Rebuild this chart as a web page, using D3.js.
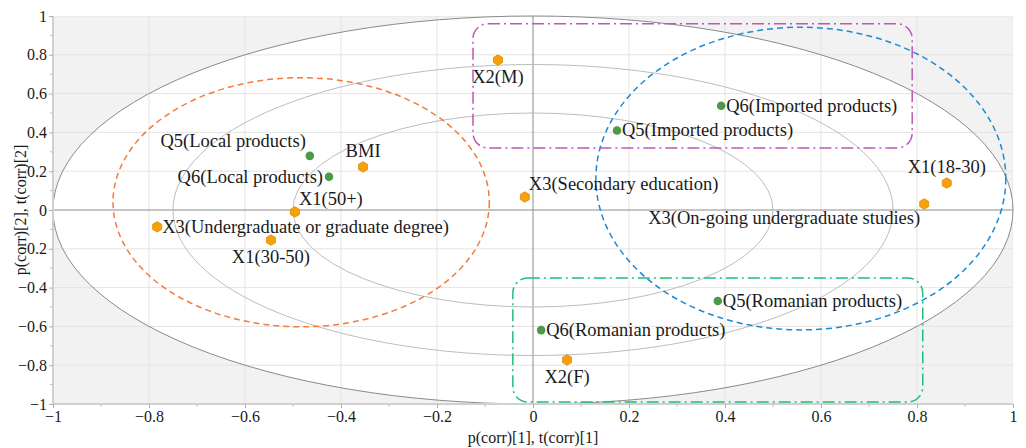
<!DOCTYPE html>
<html>
<head>
<meta charset="utf-8">
<script src="https://cdn.jsdelivr.net/npm/d3@7"></script>
<style>
  body { margin: 0; background: #fff; }
  svg text { font-family: "Liberation Serif", "DejaVu Serif", serif; fill: #1a1a1a; }
</style>
</head>
<body>
<div id="chart"></div>
<script>
// loadings: name, x, y, kind, label placement
const pointNames = ["X2(M)", "BMI", "X3(Secondary education)", "Q5(Imported products)", "Q6(Imported products)",
  "X1(18-30)", "X3(On-going undergraduate studies)", "Q5(Local products)", "Q6(Local products)", "X1(50+)",
  "X3(Undergraduate or graduate degree)", "X1(30-50)", "Q5(Romanian products)", "Q6(Romanian products)", "X2(F)"];
const pointX = [-0.073, -0.354, -0.017, 0.175, 0.392, 0.862, 0.815, -0.465, -0.425, -0.496, -0.783, -0.546, 0.385, 0.017, 0.071];
const pointY = [0.773, 0.222, 0.067, 0.41, 0.537, 0.139, 0.031, 0.279, 0.171, -0.01, -0.087, -0.155, -0.469, -0.619, -0.773];
const pointKind = ["x", "x", "x", "q", "q", "x", "x", "q", "q", "x", "x", "x", "q", "q", "x"];
const labelPos = ["below", "above", "aboveRight", "right", "right", "above", "belowLeft", "aboveLeft", "left", "aboveRight",
  "right", "below", "right", "right", "below"];

// reference ellipses (radii in data units)
const ellipseRadii = [1, 0.75, 0.5];

// group ellipses: cx, cy, rx, ry
const groupEllipses = [
  {cx: -0.483, cy: 0.04, rx: 0.392, ry: 0.642, color: "#f47a3e"},
  {cx: 0.558, cy: 0.162, rx: 0.427, ry: 0.78, color: "#1a8ad4"}
];
// group boxes: x0, x1, y0, y1
const groupBoxes = [
  {x0: -0.125, x1: 0.79, y0: 0.32, y1: 0.96, color: "#c254b6"},
  {x0: -0.042, x1: 0.812, y0: -0.99, y1: -0.35, color: "#1fbf78"}
];

const majorTicks = [-1, -0.8, -0.6, -0.4, -0.2, 0, 0.2, 0.4, 0.6, 0.8, 1];
const minorTicks = [-0.9, -0.7, -0.5, -0.3, -0.1, 0.1, 0.3, 0.5, 0.7, 0.9];

const width = 1026, height = 448;
const margin = {top: 16, right: 13, bottom: 44, left: 53};

const svg = d3.select("#chart").append("svg")
  .attr("width", width)
  .attr("height", height);

const x = d3.scaleLinear().domain([-1, 1]).range([margin.left, width - margin.right]);
const y = d3.scaleLinear().domain([-1, 1]).range([height - margin.bottom, margin.top]);

svg.append("clipPath").attr("id", "plot-clip")
  .append("rect")
  .attr("x", x(-1)).attr("y", y(1))
  .attr("width", x(1) - x(-1)).attr("height", y(-1) - y(1));

// gray background, white inside the unit ellipse
svg.append("rect")
  .attr("x", x(-1)).attr("y", y(1))
  .attr("width", x(1) - x(-1)).attr("height", y(-1) - y(1))
  .attr("fill", "#f2f2f2");

svg.append("ellipse")
  .attr("cx", x(0)).attr("cy", y(0))
  .attr("rx", x(1) - x(0)).attr("ry", y(0) - y(1))
  .attr("fill", "#fff");

// grid
const grid = svg.append("g").attr("clip-path", "url(#plot-clip)");
grid.selectAll(".gx").data(majorTicks.filter(d => d !== 0))
  .enter().append("line")
  .attr("x1", d => x(d)).attr("x2", d => x(d))
  .attr("y1", y(1)).attr("y2", y(-1))
  .attr("stroke", "#e4e4e4").attr("stroke-width", 1);
grid.selectAll(".gy").data(majorTicks.filter(d => d !== 0))
  .enter().append("line")
  .attr("y1", d => y(d)).attr("y2", d => y(d))
  .attr("x1", x(-1)).attr("x2", x(1))
  .attr("stroke", "#e4e4e4").attr("stroke-width", 1);

// zero lines
svg.append("line")
  .attr("x1", x(-1)).attr("x2", x(1)).attr("y1", y(0)).attr("y2", y(0))
  .attr("stroke", "#8c8c8c").attr("stroke-width", 1);
svg.append("line")
  .attr("x1", x(0)).attr("x2", x(0)).attr("y1", y(1)).attr("y2", y(-1))
  .attr("stroke", "#8c8c8c").attr("stroke-width", 1);

// reference ellipses
svg.selectAll(".ref-ellipse").data(ellipseRadii)
  .enter().append("ellipse")
  .attr("class", "ref-ellipse")
  .attr("cx", x(0)).attr("cy", y(0))
  .attr("rx", d => x(d) - x(0)).attr("ry", d => y(0) - y(d))
  .attr("fill", "none")
  .attr("stroke", (d, i) => i === 0 ? "#8a8a8a" : "#bdbdbd")
  .attr("stroke-width", 1);

// axes lines
svg.append("line")
  .attr("x1", x(-1)).attr("x2", x(-1)).attr("y1", y(1)).attr("y2", y(-1))
  .attr("stroke", "#d0d0d0").attr("stroke-width", 2);
svg.append("line")
  .attr("x1", x(-1)).attr("x2", x(1)).attr("y1", y(-1)).attr("y2", y(-1))
  .attr("stroke", "#d0d0d0").attr("stroke-width", 2);

// axes
const xAxis = svg.append("g")
  .attr("transform", "translate(0," + y(-1) + ")")
  .call(d3.axisBottom(x).tickValues(majorTicks).tickSize(4).tickPadding(3).tickFormat(d3.format("")));
const yAxis = svg.append("g")
  .attr("transform", "translate(" + x(-1) + ",0)")
  .call(d3.axisLeft(y).tickValues(majorTicks).tickSize(4).tickPadding(2).tickFormat(d3.format("")));
[xAxis, yAxis].forEach(a => {
  a.select(".domain").remove();
  a.selectAll("line").attr("stroke", "#b0b0b0");
  a.selectAll("text").attr("font-family", "Liberation Serif, serif").attr("font-size", 16).attr("fill", "#1a1a1a");
});
xAxis.selectAll(".minor").data(minorTicks).enter().append("line")
  .attr("x1", d => x(d)).attr("x2", d => x(d)).attr("y1", 0).attr("y2", 3)
  .attr("stroke", "#c0c0c0");
yAxis.selectAll(".minor").data(minorTicks).enter().append("line")
  .attr("y1", d => y(d)).attr("y2", d => y(d)).attr("x1", 0).attr("x2", -3)
  .attr("stroke", "#c0c0c0");

// axis titles
svg.append("text")
  .attr("x", x(0)).attr("y", 443)
  .attr("text-anchor", "middle")
  .attr("font-size", 16)
  .text("p(corr)[1], t(corr)[1]");
svg.append("text")
  .attr("transform", "translate(26," + y(0) + ") rotate(-90)")
  .attr("text-anchor", "middle")
  .attr("font-size", 16)
  .text("p(corr)[2], t(corr)[2]");

// group ellipses
svg.selectAll(".grp-ellipse").data(groupEllipses)
  .enter().append("ellipse")
  .attr("cx", d => x(d.cx)).attr("cy", d => y(d.cy))
  .attr("rx", d => x(d.rx) - x(0)).attr("ry", d => y(0) - y(d.ry))
  .attr("fill", "none")
  .attr("stroke", d => d.color)
  .attr("stroke-width", 1.5)
  .attr("stroke-dasharray", "6,4");

// group boxes
svg.selectAll(".grp-box").data(groupBoxes)
  .enter().append("rect")
  .attr("x", d => x(d.x0)).attr("y", d => y(d.y1))
  .attr("width", d => x(d.x1) - x(d.x0)).attr("height", d => y(d.y0) - y(d.y1))
  .attr("rx", 15).attr("ry", 15)
  .attr("fill", "none")
  .attr("stroke", d => d.color)
  .attr("stroke-width", 1.5)
  .attr("stroke-dasharray", "12,4,2,4");

// points
const points = pointNames.map((n, i) => ({name: n, x: pointX[i], y: pointY[i], kind: pointKind[i], pos: labelPos[i]}));

function hexagon(cx, cy, r) {
  const pts = d3.range(6).map(k => {
    const a = Math.PI / 3 * k + Math.PI / 6;
    return [cx + r * Math.cos(a), cy + r * Math.sin(a)];
  });
  return "M" + pts.join("L") + "Z";
}

svg.selectAll(".pt-x").data(points.filter(d => d.kind === "x"))
  .enter().append("path")
  .attr("d", d => hexagon(x(d.x), y(d.y), 5.2))
  .attr("fill", "#f7a10a")
  .attr("stroke", "#e08a00")
  .attr("stroke-width", 0.8);

svg.selectAll(".pt-q").data(points.filter(d => d.kind === "q"))
  .enter().append("circle")
  .attr("cx", d => x(d.x)).attr("cy", d => y(d.y))
  .attr("r", 4.3)
  .attr("fill", "#4c9a48");

const offsets = {
  below: {dx: 0, dy: 23, anchor: "middle"},
  above: {dx: 0, dy: -10, anchor: "middle"},
  aboveRight: {dx: 4, dy: -7, anchor: "start"},
  aboveLeft: {dx: -4, dy: -9, anchor: "end"},
  right: {dx: 5, dy: 6, anchor: "start"},
  left: {dx: -6, dy: 6, anchor: "end"},
  belowLeft: {dx: -4, dy: 20, anchor: "end"}
};

svg.selectAll(".pt-label").data(points)
  .enter().append("text")
  .attr("x", d => x(d.x) + offsets[d.pos].dx)
  .attr("y", d => y(d.y) + offsets[d.pos].dy)
  .attr("text-anchor", d => offsets[d.pos].anchor)
  .attr("font-size", 18.5)
  .text(d => d.name);
</script>
</body>
</html>
